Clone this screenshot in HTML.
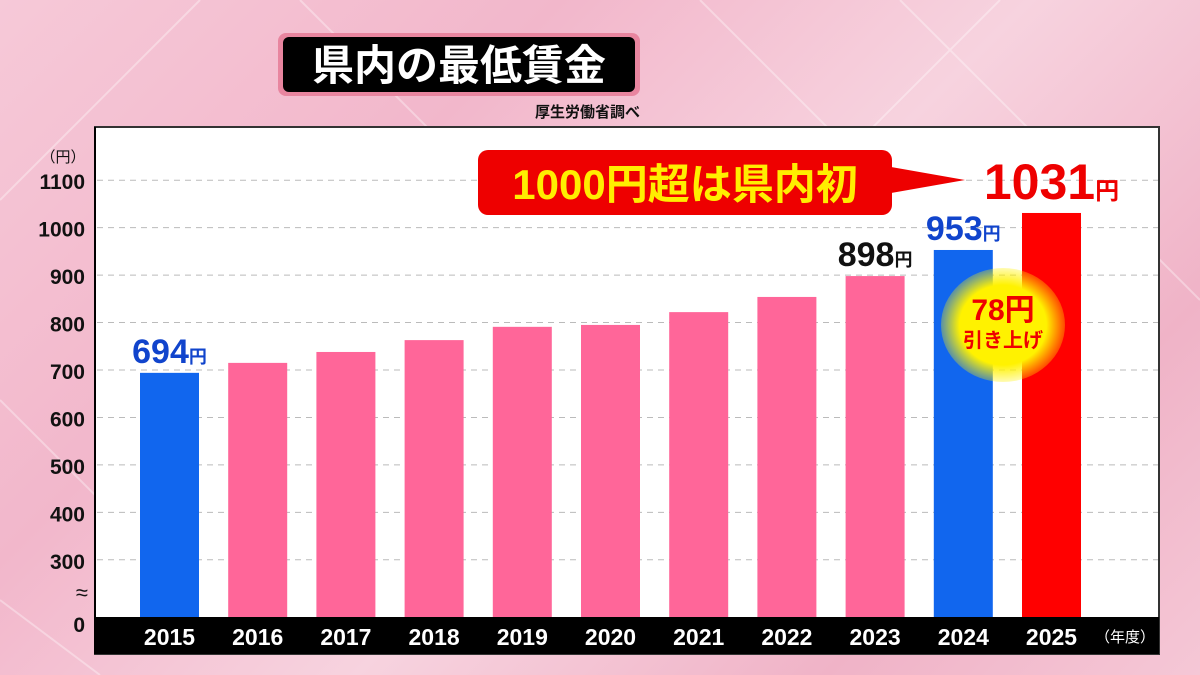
<!DOCTYPE html>
<html><head><meta charset="utf-8"><style>
html,body{margin:0;padding:0;width:1200px;height:675px;overflow:hidden}
body{background:linear-gradient(135deg,#f6c9d8 0%,#f2b7cb 30%,#f7d3df 55%,#f0b3c7 80%,#f5c7d6 100%);font-family:"Liberation Sans","Noto Sans CJK JP",sans-serif;position:relative}
</style></head><body>
<svg width="1200" height="675" style="position:absolute;left:0;top:0">
<g opacity="0.35" stroke="#fff" stroke-width="2" fill="none">
<path d="M0 200 L200 0 M300 0 L600 300 M700 0 L980 280 M900 0 L1200 300 M1000 0 L800 200 M0 400 L120 520 M0 600 L100 675"/>
</g>
<rect x="278" y="33" width="362" height="63" rx="8" fill="#e8859f"/>
<rect x="283" y="37" width="352" height="55" rx="6" fill="#000"/>
<text x="459" y="80" text-anchor="middle" font-size="42" font-weight="bold" fill="#fff" font-family="Liberation Sans, Noto Sans CJK JP, sans-serif">県内の最低賃金</text>
<text x="640" y="117" text-anchor="end" font-size="15" font-weight="bold" fill="#111" font-family="Liberation Sans, Noto Sans CJK JP, sans-serif">厚生労働省調べ</text>
<rect x="95" y="127" width="1064" height="527" fill="#fff" stroke="#333" stroke-width="2"/>
<rect x="95" y="617" width="1064" height="37" fill="#000"/>
<g id="grid"></g><g id="bars"></g><g id="labels"></g>
<line x1="95" y1="127" x2="95" y2="654" stroke="#000" stroke-width="2"/>
<text x="63" y="162" text-anchor="middle" font-size="15" fill="#111" font-family="Liberation Sans, Noto Sans CJK JP, sans-serif">（円）</text>
<text x="88" y="600" text-anchor="end" font-size="22" fill="#111">≈</text>
<text x="85" y="632" text-anchor="end" font-size="21" font-weight="bold" fill="#111">0</text>
<text x="1155" y="642" text-anchor="end" font-size="15" fill="#fff" font-family="Liberation Sans, Noto Sans CJK JP, sans-serif">（年度）</text>
<g>
<polygon points="880,165 965,180 880,195" fill="#ee0000"/>
<rect x="478" y="150" width="414" height="65" rx="10" fill="#ee0000"/>
<text x="685" y="199" text-anchor="middle" font-size="42" font-weight="bold" fill="#ffee00" font-family="Liberation Sans, Noto Sans CJK JP, sans-serif">1000円超は県内初</text>
</g>
<defs><radialGradient id="glow"><stop offset="0.7" stop-color="#fff200"/><stop offset="1" stop-color="#fff200" stop-opacity="0.3"/></radialGradient></defs>
<g>
<ellipse cx="1003" cy="325" rx="62" ry="57" fill="url(#glow)"/>
<text x="1003" y="320" text-anchor="middle" font-size="30" font-weight="bold" fill="#ee0000" font-family="Liberation Sans, Noto Sans CJK JP, sans-serif">78円</text>
<text x="1003" y="347" text-anchor="middle" font-size="20" font-weight="bold" fill="#ee0000" font-family="Liberation Sans, Noto Sans CJK JP, sans-serif">引き上げ</text>
</g>
</svg>
<script>
const years=["2015","2016","2017","2018","2019","2020","2021","2022","2023","2024","2025"];
const wages=[694,715,738,763,791,795,822,854,898,953,1031];
const ticks=[300,400,500,600,700,800,900,1000,1100];
const NS="http://www.w3.org/2000/svg";
function y(v){return 370-(v-700)*0.4744;}
function x(i){return 140+i*88.2;}
const BW=59,BASE=617;
function mk(t,a,p){const e=document.createElementNS(NS,t);for(const k in a)e.setAttribute(k,a[k]);p.appendChild(e);return e;}
const grid=document.getElementById('grid'),bars=document.getElementById('bars'),labels=document.getElementById('labels');
ticks.forEach(t=>{
 const l=mk('line',{x1:97,x2:1158,y1:y(t),y2:y(t),stroke:'#bbb','stroke-dasharray':'6 5','stroke-width':1},grid);
 
 
 const tx=mk('text',{x:85,y:y(t)+9,'text-anchor':'end','font-size':21,'font-weight':'bold',fill:'#111'},grid);
 tx.textContent=t;
 
 
});
const colors=years.map((_,i)=>i===0||i===9?'#1166ee':i===10?'#ff0000':'#ff6699');
wages.forEach((v,i)=>{
 const r=mk('rect',{x:x(i),y:y(v),width:BW,height:BASE-y(v),fill:colors[i]},bars);
 
 
 const t=mk('text',{x:x(i)+BW/2,y:645,'text-anchor':'middle','font-size':23,'font-weight':'bold',fill:'#fff'},labels);
 t.textContent=years[i];
 
 
});
const lab=[[0,'#1144cc',34,18],[8,'#111',34,18],[9,'#1144cc',34,18],[10,'#ee0000',50,24]];
lab.forEach(([i,c,fs,fs2])=>{
 const t=mk('text',{x:x(i)+BW/2,y:y(wages[i])-(i===10?14:10),'text-anchor':'middle','font-weight':'bold',fill:c,'font-family':'Liberation Sans, Noto Sans CJK JP, sans-serif'},labels);
 const a=mk('tspan',{'font-size':fs},t);a.textContent=wages[i];
 const b=mk('tspan',{'font-size':fs2},t);b.textContent='円';
 
 
});
</script>
</body></html>
